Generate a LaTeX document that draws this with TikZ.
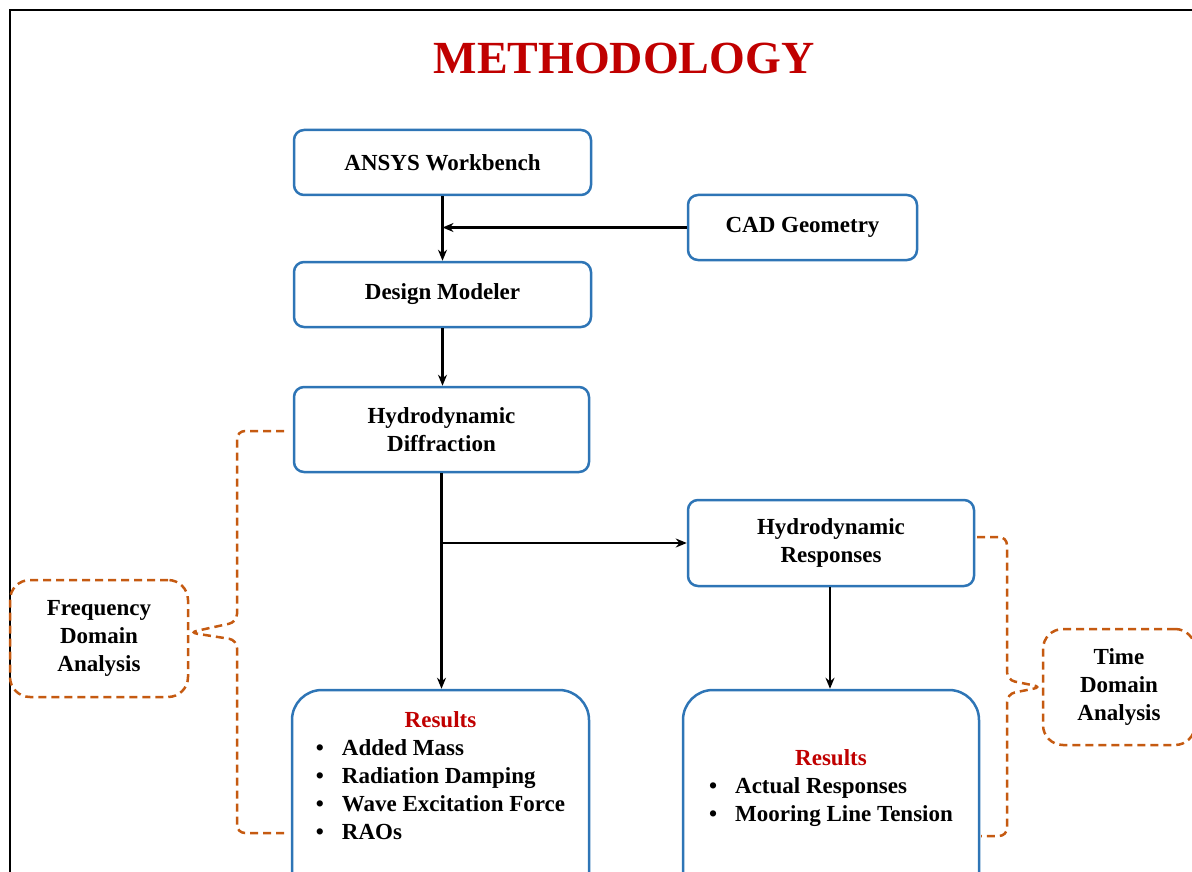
\documentclass[tikz,border=0pt]{standalone}
\usepackage{fontspec}
\setmainfont{Liberation Serif}
\usetikzlibrary{arrows.meta}
\definecolor{boxblue}{RGB}{46,117,182}
\definecolor{titlered}{RGB}{192,0,0}
\definecolor{braceorange}{RGB}{197,90,17}
\newcommand{\resword}{\textcolor{titlered}{Results}}

\begin{document}
\begin{tikzpicture}[x=1pt,y=-1pt,
  box/.style={draw=boxblue,line width=2.5pt,rounded corners=10pt,align=center,inner sep=0pt,
    font=\fontsize{23}{28}\selectfont\bfseries},
  resbox/.style={box,rounded corners=30pt,minimum width=297pt,minimum height=212pt},
  dashbox/.style={draw=braceorange,line width=2.5pt,dash pattern=on 8pt off 5pt,rounded corners=20pt,
    align=center,inner sep=0pt,font=\fontsize{23}{28}\selectfont\bfseries},
  brace/.style={draw=braceorange,line width=2.5pt,dash pattern=on 8pt off 5pt,rounded corners=8pt},
  arr/.style={-{Stealth[length=11pt,width=9pt]},line width=2.2pt}]

\useasboundingbox (0,0) rectangle (1192,872);
\draw[line width=2pt] (10,872) -- (10,10) -- (1192,10);

\node[text=titlered,font=\fontsize{46}{50}\selectfont\bfseries] (title) at (624,58) {METHODOLOGY};

\node[box,minimum width=297pt,minimum height=65pt] (ansys) at (442.5,162.5) {ANSYS Workbench};
\node[box,minimum width=229pt,minimum height=65pt] (cad) at (802.5,227.5) {CAD Geometry};
\node[box,minimum width=297pt,minimum height=65pt] (design) at (442.5,294.5) {Design Modeler};
\node[box,minimum width=295pt,minimum height=85pt] (diff) at (441.5,429.5) {Hydrodynamic\\Diffraction};
\node[box,minimum width=286pt,minimum height=86pt] (resp) at (831,543) {Hydrodynamic\\Responses};

\node[resbox] (resL) at (440.5,796) {\begin{tabular}{@{}l@{\hspace{18pt}}l@{}}
  \multicolumn{2}{c}{\resword}\\
  \textbullet & Added Mass\\
  \textbullet & Radiation Damping\\
  \textbullet & Wave Excitation Force\\
  \textbullet & RAOs\\[36pt]
\end{tabular}};
\node[resbox,minimum width=296pt] (resR) at (831,796) {\begin{tabular}{@{}l@{\hspace{18pt}}l@{}}
  \multicolumn{2}{c}{\resword}\\
  \textbullet & Actual Responses\\
  \textbullet & Mooring Line Tension\\[16pt]
\end{tabular}};

\node[dashbox,minimum width=178pt,minimum height=117pt] (freq) at (99,638.5) {Frequency\\Domain\\Analysis};
\node[dashbox,minimum width=152pt,minimum height=116pt] (time) at (1119,687) {Time\\Domain\\Analysis};

\draw[arr] (ansys.south) -- (design.north);
\draw[arr] (cad.west) -- (ansys.south |- cad.west);
\draw[arr] (design.south) -- (design.south |- diff.north);
\draw[arr] (diff.south) -- (diff.south |- resL.north);
\draw[arr] (diff.south |- resp.west) -- (resp.west);
\draw[arr] (resp.south -| 830,0) -- (resR.north -| 830,0);

\draw[brace] (284,431) -| (237,622) -- ([yshift=6pt]freq.east) -- (237,640) |- (285,833);
\draw[brace] (977,537) -| (1007,680) -- (time.west) -- (1007,694) |- (981,836);

\end{tikzpicture}
\end{document}
